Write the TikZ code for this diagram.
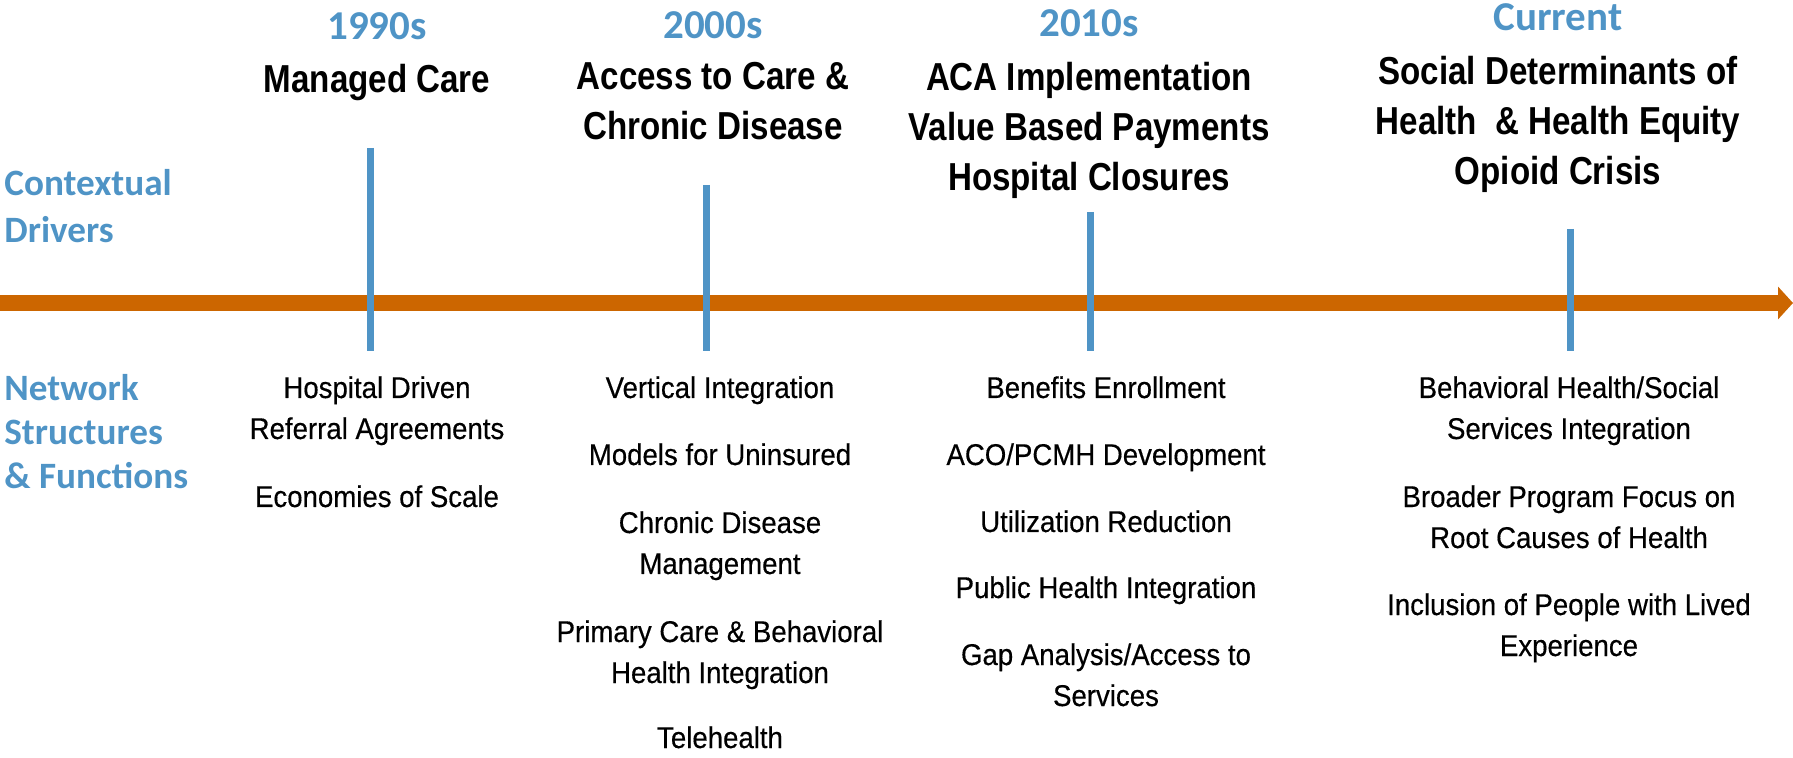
\documentclass[tikz,border=0pt]{standalone}
\usepackage{fontspec}
\setmainfont{Liberation Sans}[FakeStretch=0.92,FakeBold=0.4]
\newfontfamily\condfam{Liberation Sans}[FakeStretch=0.85]
\newfontfamily\blufam{Carlito}
\usetikzlibrary{arrows.meta}
\definecolor{tlblue}{RGB}{79,148,198}
\definecolor{tlorange}{RGB}{204,102,0}
\begin{document}
\begin{tikzpicture}[x=0.5pt,y=-0.5pt,
  item/.style={anchor=base,align=center,inner sep=0pt,font=\fontsize{15}{20.5}\selectfont},
  era/.style={anchor=base,align=center,inner sep=0pt,font=\condfam\bfseries\fontsize{19.5}{25}\selectfont},
  year/.style={anchor=base,inner sep=0pt,text=tlblue,font=\blufam\bfseries\fontsize{20.5}{24}\selectfont},
  side/.style={anchor=base west,align=left,inner sep=0pt,text=tlblue,font=\blufam\bfseries\fontsize{18.6}{22}\selectfont},
  tick/.style={draw=tlblue,line width=3.5pt},
  timeline/.style={draw=tlorange,line width=8pt,-{Triangle[length=7.5pt,width=16pt]}}]
\useasboundingbox (0,0) rectangle (1793,758);

% timeline
\coordinate (tlstart) at (0,303);
\coordinate (tlend) at (1793,303);
\draw[timeline] (tlstart) -- (tlend);

% ticks
\coordinate (t1a) at (370,148); \coordinate (t1b) at (370,351);
\coordinate (t2a) at (706,185); \coordinate (t2b) at (706,351);
\coordinate (t3a) at (1090,212); \coordinate (t3b) at (1090,351);
\coordinate (t4a) at (1570,229); \coordinate (t4b) at (1570,351);
\draw[tick] (t1a) -- (t1b);
\draw[tick] (t2a) -- (t2b);
\draw[tick] (t3a) -- (t3b);
\draw[tick] (t4a) -- (t4b);

% side labels (anchor = baseline of last line)
\node[side,font=\blufam\bfseries\fontsize{18.6}{23.5}\selectfont] (ctx) at (4,243) {Contextual\\Drivers};
\node[side] (net) at (4,489) {Network\\Structures\\\& Functions};

% years
\node[year] (y1) at (377,40) {1990s};
\node[year] (y2) at (713,39) {2000s};
\node[year] (y3) at (1089,37) {2010s};
\node[year] (y4) at (1558,31) {Current};

% eras
\node[era] (e1) at (377,93) {Managed Care};
\node[era] (e2) at (713,140) {Access to Care \&\\Chronic Disease};
\node[era] (e3) at (1089,191) {ACA Implementation\\Value Based Payments\\Hospital Closures};
\node[era] (e4) at (1558,185) {Social Determinants of\\Health\ \ \& Health Equity\\Opioid Crisis};

% column 1
\node[item] (c1a) at (377,439) {Hospital Driven\\Referral Agreements};
\node[item] (c1b) at (377,507) {Economies of Scale};

% column 2
\node[item] (c2a) at (720,398) {Vertical Integration};
\node[item] (c2b) at (720,465) {Models for Uninsured};
\node[item] (c2c) at (720,574) {Chronic Disease\\Management};
\node[item] (c2d) at (720,683) {Primary Care \& Behavioral\\Health Integration};
\node[item] (c2e) at (720,748) {Telehealth};

% column 3
\node[item] (c3a) at (1106,398) {Benefits Enrollment};
\node[item] (c3b) at (1106,465) {ACO/PCMH Development};
\node[item] (c3c) at (1106,532) {Utilization Reduction};
\node[item] (c3d) at (1106,598) {Public Health Integration};
\node[item] (c3e) at (1106,706) {Gap Analysis/Access to\\Services};

% column 4
\node[item] (c4a) at (1569,439) {Behavioral Health/Social\\Services Integration};
\node[item] (c4b) at (1569,548) {Broader Program Focus on\\Root Causes of Health};
\node[item] (c4c) at (1569,656) {Inclusion of People with Lived\\Experience};
\end{tikzpicture}
\end{document}
